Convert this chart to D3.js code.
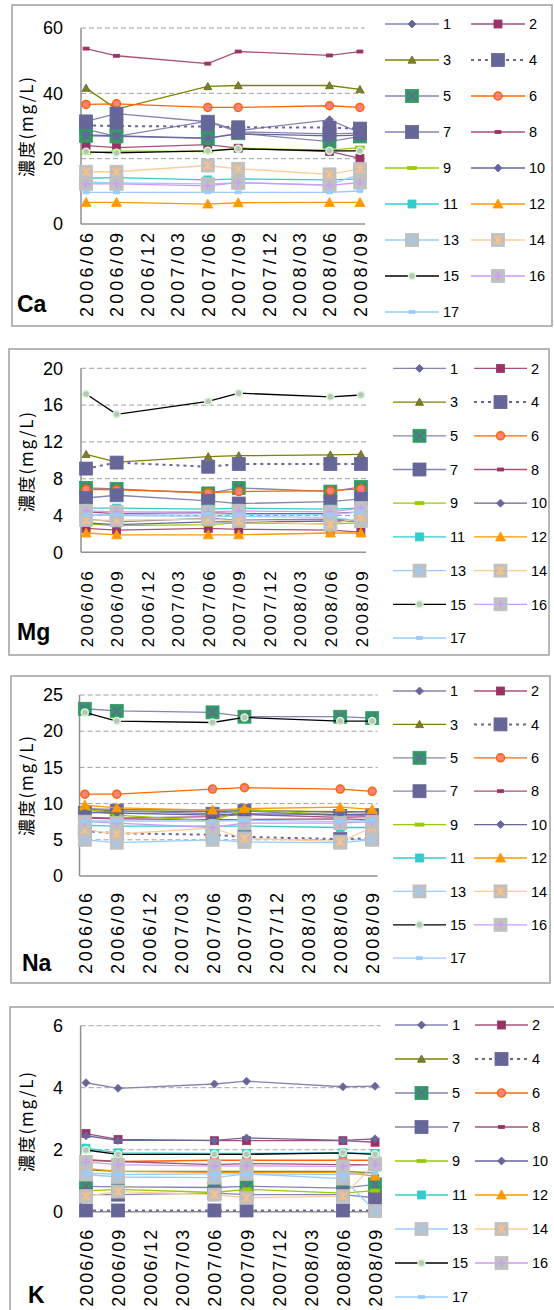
<!DOCTYPE html>
<html>
<head>
<meta charset="utf-8">
<script src="https://cdn.jsdelivr.net/npm/d3@7"></script>
<style>
	body { margin: 0; background: #fff; }
	svg text { font-family: "Liberation Sans", Arial, "Noto Sans CJK JP", sans-serif; }
</style>
</head>
<body>
<script>

// sampling months counted from 2006/06
var sampleMonths = [0, 3, 12, 15, 24, 27];
var tickMonths = [0, 3, 6, 9, 12, 15, 18, 21, 24, 27];
var tickLabels = ['2006/06', '2006/09', '2006/12', '2007/03', '2007/06',
	'2007/09', '2007/12', '2008/03', '2008/06', '2008/09'];
var seriesNames = ['1', '2', '3', '4', '5', '6', '7', '8', '9', '10', '11', '12', '13', '14', '15', '16', '17'];

// one row per series, one value per sampling month (mg/L)
var caValues = [
	[29.0, 26.8, 31.5, 28.6, 31.9, 28.0],
	[24.0, 23.4, 24.3, 23.2, 22.2, 20.1],
	[41.6, 35.2, 42.1, 42.4, 42.4, 41.2],
	[30.2, 30.0, 29.8, 29.6, 29.5, 29.2],
	[27.0, 26.8, 26.2, 27.8, 25.2, 26.8],
	[36.6, 36.8, 35.7, 35.7, 36.2, 35.7],
	[31.4, 33.8, 31.3, 28.2, 27.6, 27.8],
	[53.7, 51.5, 49.1, 52.8, 51.6, 52.8],
	[21.8, 22.3, 22.2, 23.2, 22.6, 23.4],
	[27.3, 27.0, 26.3, 27.6, 27.0, 27.2],
	[14.0, 14.2, 13.5, 13.8, 13.5, 13.8],
	[6.6, 6.6, 6.1, 6.5, 6.6, 6.6],
	[12.8, 12.6, 12.3, 12.6, 12.0, 15.3],
	[16.0, 16.0, 17.9, 16.9, 15.2, 16.9],
	[22.1, 21.8, 22.4, 23.0, 22.4, 22.4],
	[12.3, 12.3, 11.7, 12.7, 11.8, 12.7],
	[9.7, 9.7, 9.7, 9.7, 9.7, 10.1]
];
var mgValues = [
	[3.6, 3.3, 3.7, 3.5, 3.6, 3.5],
	[2.6, 2.4, 2.6, 2.5, 2.4, 2.2],
	[10.65, 9.8, 10.4, 10.5, 10.6, 10.65],
	[9.1, 9.75, 9.3, 9.6, 9.6, 9.6],
	[7.0, 6.9, 6.4, 7.0, 6.6, 7.1],
	[6.85, 6.8, 6.5, 6.6, 6.7, 6.9],
	[5.9, 6.2, 5.6, 5.3, 5.5, 5.8],
	[4.4, 4.2, 4.3, 4.2, 4.2, 4.4],
	[3.1, 2.9, 3.0, 3.2, 3.1, 3.2],
	[3.2, 3.0, 3.3, 3.3, 3.4, 3.4],
	[4.8, 4.8, 4.7, 4.8, 4.7, 4.8],
	[2.1, 1.9, 1.9, 1.9, 2.1, 2.1],
	[4.1, 4.0, 3.9, 3.9, 3.8, 3.4],
	[3.5, 3.5, 3.6, 3.4, 3.0, 3.8],
	[17.2, 15.0, 16.4, 17.3, 16.9, 17.1],
	[4.5, 4.4, 4.4, 4.5, 4.4, 4.8],
	[4.1, 4.1, 4.2, 4.1, 4.1, 4.4]
];
var naValues = [
	[9.3, 9.2, 9.1, 9.1, 8.8, 8.9],
	[8.0, 7.9, 7.8, 7.8, 7.9, 7.8],
	[9.2, 9.0, 8.9, 9.0, 8.9, 8.9],
	[6.2, 5.9, 5.7, 5.4, 5.1, 5.2],
	[23.1, 22.8, 22.6, 22.0, 22.0, 21.8],
	[11.3, 11.3, 12.0, 12.2, 12.0, 11.7],
	[8.7, 9.0, 8.6, 9.0, 8.3, 8.4],
	[8.1, 8.0, 8.2, 8.5, 8.1, 8.2],
	[9.3, 8.4, 7.6, 9.2, 8.4, 8.6],
	[8.8, 8.7, 8.4, 8.6, 8.5, 8.5],
	[7.0, 6.9, 6.9, 6.9, 6.7, 6.7],
	[9.8, 9.4, 9.1, 9.3, 9.5, 9.2],
	[5.0, 4.6, 5.0, 4.7, 4.6, 5.0],
	[6.4, 5.8, 6.6, 5.2, 4.75, 6.7],
	[22.6, 21.4, 21.2, 21.9, 21.4, 21.4],
	[7.5, 7.3, 6.7, 7.3, 7.3, 7.5],
	[7.6, 7.6, 7.6, 7.7, 7.5, 7.7]
];
var kValues = [
	[4.16, 3.98, 4.12, 4.21, 4.03, 4.05],
	[2.52, 2.33, 2.29, 2.29, 2.29, 2.24],
	[1.35, 1.3, 1.3, 1.3, 1.3, 1.25],
	[0.04, 0.04, 0.04, 0.04, 0.04, 0.04],
	[0.82, 0.8, 0.78, 0.82, 0.76, 0.88],
	[1.66, 1.62, 1.66, 1.66, 1.66, 1.66],
	[0.55, 0.55, 0.6, 0.55, 0.55, 0.45],
	[1.68, 1.62, 1.52, 1.55, 1.52, 1.52],
	[0.67, 0.72, 0.62, 0.72, 0.6, 0.68],
	[2.45, 2.3, 2.3, 2.38, 2.3, 2.35],
	[2.05, 1.9, 1.88, 1.88, 1.9, 1.88],
	[1.4, 1.3, 1.27, 1.27, 1.27, 1.15],
	[1.2, 1.12, 1.1, 1.22, 1.07, 0.02],
	[0.5, 0.65, 0.55, 0.45, 0.5, 1.55],
	[1.99, 1.85, 1.85, 1.85, 1.9, 1.85],
	[1.6, 1.52, 1.47, 1.48, 1.46, 1.52],
	[1.25, 1.2, 1.22, 1.22, 1.2, 1.25]
];

// series styles
var lineColors = ['#8585b5', '#a8507e', '#808000', '#666699', '#8585b5', '#ff6600', '#8585b5', '#a8507e', '#99cc00',
	'#666699', '#33cccc', '#ff9900', '#99ccff', '#ffcc99', '#000000', '#cc99ff', '#99ccff'];
var markerShapes = ['diamond', 'square', 'triangle', 'square', 'square', 'circle', 'square', 'bar', 'bar',
	'diamond', 'square', 'triangle', 'square', 'square', 'circle', 'square', 'bar'];
var markerSizes = [8, 8, 8, 13, 13, 8, 13, 6, 9, 8, 8, 10, 13, 13, 7, 13, 6];
var markerFills = ['#666699', '#993366', '#7d7d3a', '#666699', '#339966', '#ff8080', '#666699', '#993366', '#99cc00',
	'#666699', '#33cccc', '#ff9900', '#c0c0c0', '#c0c0c0', '#c0c0c0', '#c0c0c0', '#99ccff'];
var markerStrokes = ['#666699', '#993366', '#666600', '#666699', '#339966', '#ff6600', '#666699', '#993366', '#99cc00',
	'#666699', '#33cccc', '#ff9900', '#c0c0c0', '#c0c0c0', '#ccffcc', '#c0c0c0', '#99ccff'];
var markerGlyphs = [null, null, null, null, 'x', null, null, null, null, null, null, null, 'x', 'star', null, 'plus', null];
var glyphColors = [null, null, null, null, '#666699', null, null, null, null, null, null, null, '#99ccff', '#ffc080', null, '#cc99ff', null];

var panels = [
	{ name: 'Ca', values: caValues, yMax: 60, yStep: 20, frame: [12, 5, 540, 321],
		x0: 81, x1: 365, yTop: 28, yBot: 224, labelGap: 9, labelLen: 84, labelFont: 18,
		titleY: 127, nameX: 17, nameY: 312, legX: [385, 471], legLen: 54, legY0: 24, legDy: 36 },
	{ name: 'Mg', values: mgValues, yMax: 20, yStep: 4, frame: [9, 349, 540, 306],
		x0: 81, x1: 366, yTop: 368.3, yBot: 552.3, labelGap: 19, labelLen: 76, labelFont: 17,
		titleY: 462, nameX: 17, nameY: 640, legX: [393, 474], legLen: 53, legY0: 368.4, legDy: 33.7 },
	{ name: 'Na', values: naValues, yMax: 25, yStep: 5, frame: [11, 676, 539, 307],
		x0: 79.5, x1: 377.5, yTop: 695, yBot: 876, labelGap: 17, labelLen: 81, labelFont: 18,
		titleY: 786, nameX: 22, nameY: 971, legX: [393, 474], legLen: 53, legY0: 691, legDy: 33.4 },
	{ name: 'K', values: kValues, yMax: 6, yStep: 2, frame: [10, 1007, 546, 310],
		x0: 80.6, x1: 380.4, yTop: 1025.7, yBot: 1211.7, labelGap: 18, labelLen: 77, labelFont: 18,
		titleY: 1122, nameX: 28, nameY: 1303, legX: [395, 475], legLen: 53, legY0: 1025, legDy: 34 }
];

var svg = d3.select('body').append('svg')
	.attr('width', 554)
	.attr('height', 1310);

// draws marker of series s centred on (cx, cy)
function drawMarker(g, s, cx, cy) {
	var size = markerSizes[s], h = size / 2;
	var shape = markerShapes[s];
	var el;
	if (shape === 'diamond') {
		el = g.append('path').attr('d', 'M' + cx + ',' + (cy - h) + 'L' + (cx + h) + ',' + cy +
			'L' + cx + ',' + (cy + h) + 'L' + (cx - h) + ',' + cy + 'Z');
	}
	else if (shape === 'triangle') {
		el = g.append('path').attr('d', 'M' + cx + ',' + (cy - h) + 'L' + (cx + h) + ',' + (cy + h * 0.8) +
			'L' + (cx - h) + ',' + (cy + h * 0.8) + 'Z');
	}
	else if (shape === 'circle') {
		el = g.append('circle').attr('cx', cx).attr('cy', cy).attr('r', h);
	}
	else if (shape === 'bar') {
		el = g.append('rect').attr('x', cx - h).attr('y', cy - 1.5).attr('width', size).attr('height', 3);
	}
	else {
		el = g.append('rect').attr('x', cx - h).attr('y', cy - h).attr('width', size).attr('height', size);
	}
	el.attr('fill', markerFills[s]).attr('stroke', markerStrokes[s]).attr('stroke-width', shape === 'circle' ? 1.5 : 0.8);

	// glyph drawn over the grey / green squares
	var glyph = markerGlyphs[s];
	if (!glyph) return;
	var r = h - 2.5;
	var segs = [];
	if (glyph === 'x' || glyph === 'star') segs.push([-r, -r, r, r], [-r, r, r, -r]);
	if (glyph === 'plus' || glyph === 'star') segs.push([-r, 0, r, 0], [0, -r, 0, r]);
	if (glyph === 'star') segs.splice(2, 1);
	segs.forEach(function(q) {
		g.append('line')
			.attr('x1', cx + q[0]).attr('y1', cy + q[1])
			.attr('x2', cx + q[2]).attr('y2', cy + q[3])
			.attr('stroke', glyphColors[s]).attr('stroke-width', 1.5);
	});
}

function drawPanel(p) {
	var g = svg.append('g');

	// frame round the whole panel
	g.append('rect')
		.attr('x', p.frame[0]).attr('y', p.frame[1])
		.attr('width', p.frame[2]).attr('height', p.frame[3])
		.attr('fill', '#fff').attr('stroke', '#a0a0a0').attr('stroke-width', 1.5);

	var x = d3.scaleLinear().domain([-0.5, 27.5]).range([p.x0, p.x1]);
	var y = d3.scaleLinear().domain([0, p.yMax]).range([p.yBot, p.yTop]);
	var yTicks = d3.range(0, p.yMax + p.yStep / 2, p.yStep);

	// ------------------------ GRIDLINES ------------------------
	g.selectAll('.grid')
		.data(yTicks.slice(1))
		.enter().append('line')
		.attr('x1', p.x0).attr('x2', p.x1)
		.attr('y1', function(d) { return y(d); })
		.attr('y2', function(d) { return y(d); })
		.attr('stroke', '#a0a0a0').attr('stroke-width', 1)
		.attr('stroke-dasharray', '5,3');

	// ------------------------ AXES ------------------------
	var yAxis = g.append('g')
		.attr('transform', 'translate(' + p.x0 + ',0)')
		.call(d3.axisLeft(y).tickValues(yTicks).tickSize(0).tickPadding(p.x0 - 63)
			.tickFormat(d3.format('d')));
	yAxis.select('.domain').remove();
	yAxis.selectAll('text').attr('font-size', 18).attr('fill', '#000')
		.style('font-family', '"Liberation Sans", Arial, sans-serif');

	var xAxis = g.append('g')
		.attr('transform', 'translate(0,' + p.yBot + ')')
		.call(d3.axisBottom(x).tickValues(tickMonths).tickSize(0)
			.tickFormat(function(d, i) { return tickLabels[i]; }));
	xAxis.select('.domain').remove();
	xAxis.selectAll('text')
		.attr('transform', 'rotate(-90)')
		.attr('x', -p.labelGap).attr('y', 0).attr('dy', '0.36em')
		.attr('font-size', p.labelFont).attr('fill', '#000')
		.attr('textLength', p.labelLen).attr('lengthAdjust', 'spacing')
		.style('text-anchor', 'end');

	g.append('line')
		.attr('x1', p.x0).attr('x2', p.x0).attr('y1', p.yTop).attr('y2', p.yBot)
		.attr('stroke', '#909090').attr('stroke-width', 1.5);
	g.append('line')
		.attr('x1', p.x0).attr('x2', p.x1).attr('y1', p.yBot).attr('y2', p.yBot)
		.attr('stroke', '#909090').attr('stroke-width', 1.5);

	// axis title and element name
	g.append('text')
		.attr('transform', 'translate(25,' + p.titleY + ') rotate(-90)')
		.attr('text-anchor', 'middle').attr('dominant-baseline', 'central')
		.attr('font-size', 17).attr('textLength', 100).attr('lengthAdjust', 'spacing')
		.style('font-family', '"Noto Sans CJK JP", sans-serif')
		.text('濃度(mg/L)');
	g.append('text')
		.attr('x', p.nameX).attr('y', p.nameY)
		.attr('font-size', 23).attr('font-weight', 'bold')
		.text(p.name);

	// ------------------------ SERIES ------------------------
	var line = d3.line()
		.x(function(d, i) { return x(sampleMonths[i]); })
		.y(function(d) { return y(d); });

	p.values.forEach(function(vals, s) {
		var sg = g.append('g');
		sg.append('path')
			.attr('d', line(vals))
			.attr('fill', 'none')
			.attr('stroke', lineColors[s])
			.attr('stroke-width', s === 3 ? 2 : 1.3)
			.attr('stroke-dasharray', s === 3 ? '3,4' : null);
		vals.forEach(function(v, i) { drawMarker(sg, s, x(sampleMonths[i]), y(v)); });
	});

	// ------------------------ LEGEND ------------------------
	seriesNames.forEach(function(name, s) {
		var col = s % 2, row = Math.floor(s / 2);
		var lx = p.legX[col], ly = p.legY0 + row * p.legDy;
		g.append('line')
			.attr('x1', lx).attr('x2', lx + p.legLen).attr('y1', ly).attr('y2', ly)
			.attr('stroke', lineColors[s])
			.attr('stroke-width', s === 3 ? 2 : 1.3)
			.attr('stroke-dasharray', s === 3 ? '3,4' : null);
		drawMarker(g, s, lx + p.legLen / 2, ly);
		g.append('text')
			.attr('x', lx + p.legLen + 4).attr('y', ly)
			.attr('dy', '0.36em').attr('font-size', 14.5)
			.text(name);
	});
}

panels.forEach(drawPanel);

</script>
</body>
</html>
